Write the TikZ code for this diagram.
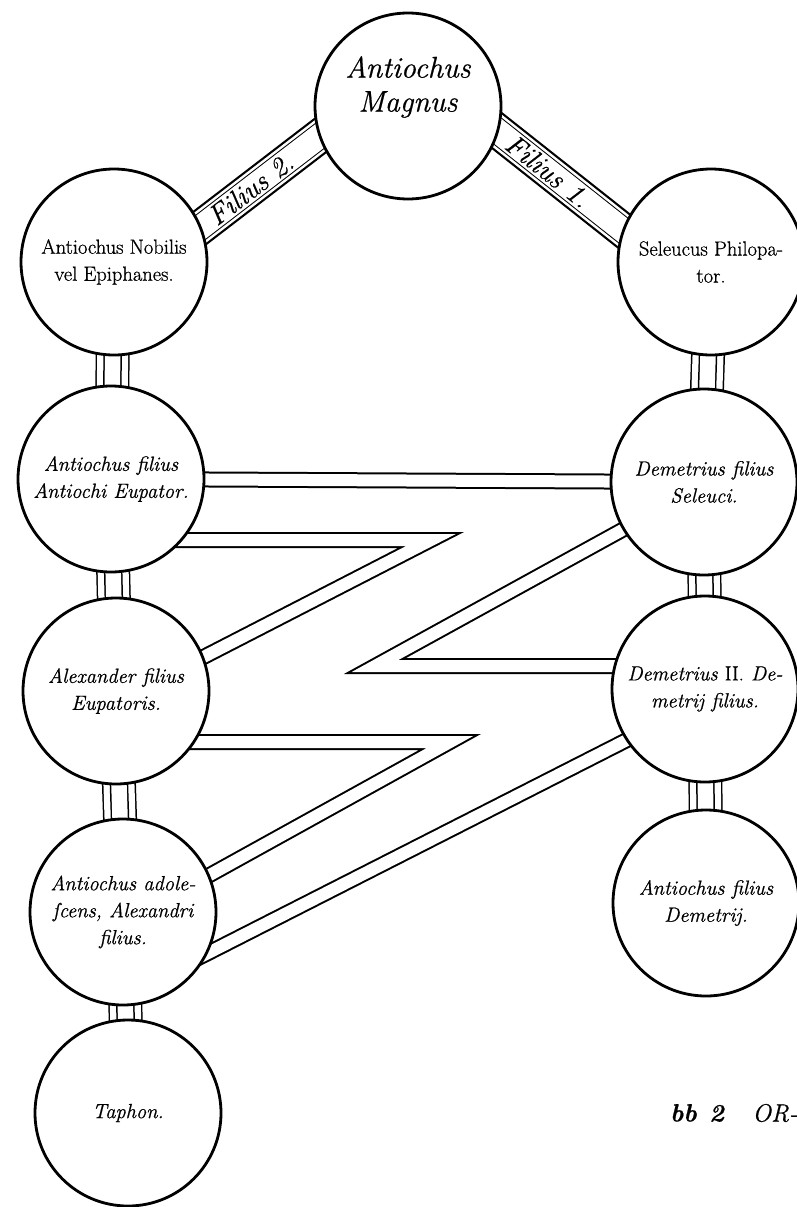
\documentclass[tikz,border=0pt]{standalone}
\usepackage{fontspec}
\setmainfont{Latin Modern Roman}[FakeBold=0.7]
\usetikzlibrary{backgrounds}
\begin{document}
\begin{tikzpicture}[x=1pt, y=-1pt,
  person/.style={circle, draw, line width=2.8pt, fill=white, minimum size=186pt,
    inner sep=0pt, align=center, font=\fontsize{20.5}{27}\selectfont\itshape,
    execute at end node={\\[-11pt]\mbox{}}},
  stem/.style={draw, line width=1.5pt, double, double distance=31pt,
    postaction={draw, line width=1.5pt, double, double distance=15.5pt}},
  filius/.style={draw, line width=2.2pt, double, double distance=31pt,
    shorten <=-12pt, shorten >=-12pt,
    postaction={draw, line width=1pt, double, double distance=24pt,
      shorten <=-12pt, shorten >=-12pt}},
  zband/.style={draw, line width=2pt, double, double distance=12pt, line join=miter},
  tag/.style={font=\fontsize{28}{28}\selectfont\itshape, inner sep=0pt}]
\useasboundingbox (0,0) rectangle (797,1207);
% the persons
\node[person, font=\fontsize{30}{34}\selectfont\itshape, execute at end node={}] (T) at (408,106) {Antiochus\\Magnus\\\strut};
\node[person, font=\fontsize{20.5}{27}\selectfont] (L1) at (114,262) {Antiochus Nobilis\\vel Epiphanes.};
\node[person, font=\fontsize{20.5}{27}\selectfont] (R1) at (711,262) {Seleucus Philopa-\\tor.};
\node[person] (L2) at (111,479) {Antiochus filius\\Antiochi Eupator.};
\node[person] (R2) at (704,482) {Demetrius filius\\Seleuci.};
\node[person] (L3) at (116,691) {Alexander filius\\Eupatoris.};
\node[person] (R3) at (705,689) {Demetrius {\upshape II.} De-\\metrij filius.};
\node[person, execute at end node={}] (L4) at (123,912) {Antiochus adole-\\ſcens, Alexandri\\filius.};
\node[person] (R4) at (706,903) {Antiochus filius\\Demetrij.};
\node[person] (Ta) at (128,1113) {Taphon.};
% corners of the zigzag
\coordinate (k1) at (431,540);
\coordinate (k2) at (375,666);
\coordinate (k3) at (450,742);
% the bands
\begin{scope}[on background layer]
\draw[filius] (L1.22) -- (T.199);
\draw[filius] (T.-16) -- (R1.160);
\foreach \a/\b in {L1/L2, L2/L3, L3/L4, L4/Ta, R1/R2, R2/R3, R3/R4}
  \draw[stem] (\a.center) -- (\b.center);
\draw[zband] (L2.center) -- (R2.center);
\draw[zband] (L2.center |- k1) -- (k1) -- ([yshift=-11pt]L3.center);
\draw[zband] ([yshift=-3pt]R2.center) -- (k2) -- (R3.center |- k2);
\draw[zband] (L3.center |- k3) -- (k3) -- ([yshift=-11pt]L4.center);
\draw[zband] ([shift={(-23pt,-23pt)}]R3.center) -- ([shift={(36pt,-66pt)}]L4.center);
\end{scope}
\path (L1.22) -- (T.199) node[tag, pos=0.42, sloped] (f2) {Filius 2.};
\path (T.-16) -- (R1.160) node[tag, pos=0.4, sloped] (f1) {Filius 1.};
% signature and catchword
\node[font=\fontsize{25}{25}\selectfont\itshape] (sig) at (697,1113) {\bfseries bb\enspace 2};
\node[font=\fontsize{25}{25}\selectfont\itshape] (catch) at (775,1113) {OR-};
\end{tikzpicture}
\end{document}
